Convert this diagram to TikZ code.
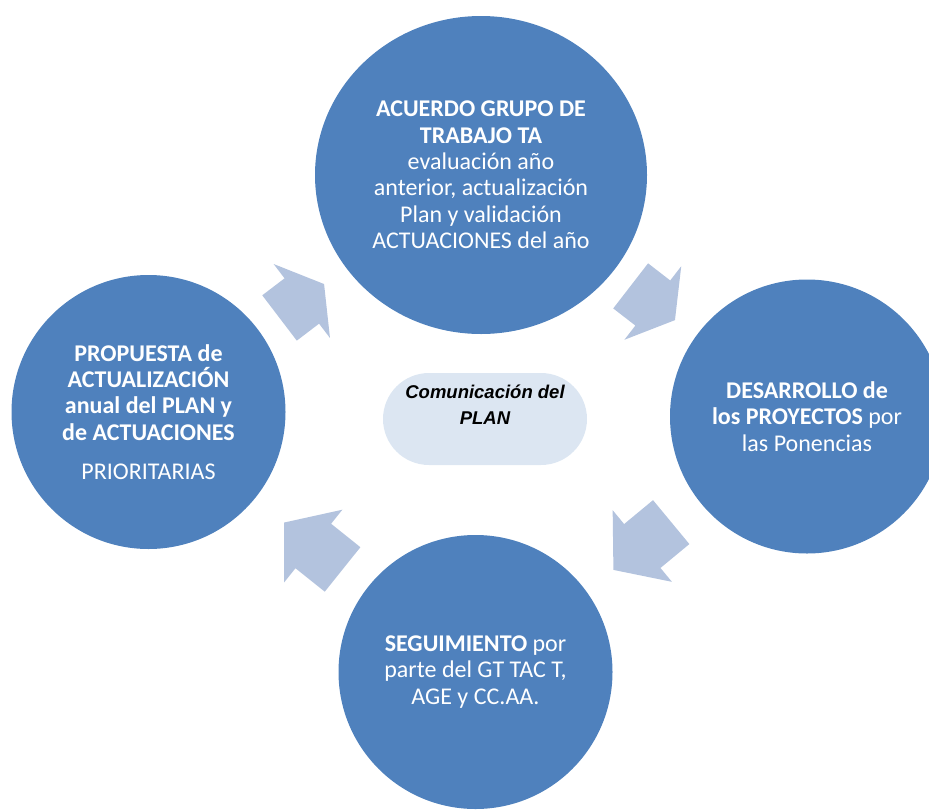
\documentclass[tikz,border=0pt]{standalone}
\usepackage{fontspec}
\setmainfont{Carlito}
\newfontfamily\pillfont{Liberation Sans}
\usetikzlibrary{shapes.geometric}
\definecolor{stageblue}{HTML}{4F81BD}
\definecolor{arrowblue}{HTML}{B3C3DE}
\definecolor{pillblue}{HTML}{DCE6F2}
\tikzstyle{stage}=[circle,fill=stageblue,text=white,inner sep=0pt,minimum size=274pt,align=center,font=\fontsize{24}{26.4}\selectfont]
\tikzstyle{pill}=[rectangle,rounded corners=46pt,fill=pillblue,minimum width=204pt,minimum height=92pt]
\tikzstyle{pilltext}=[inner sep=0pt,align=center,font=\pillfont\bfseries\itshape\fontsize{18.5}{25.5}\selectfont]
% x, y, angle, length
\newcommand{\cyclearrow}[4]{\fill[arrowblue,shift={(#1,#2)},rotate=#3] (-#4/2,-28.5) -- (0,-28.5) -- (0,-46.5) -- (#4/2,0) -- (0,46.5) -- (0,28.5) -- (-#4/2,28.5) -- cycle;}

\begin{document}
\begin{tikzpicture}[x=1pt,y=-1pt]
\useasboundingbox (0,0) rectangle (929,809);
\clip (0,0) rectangle (929,809);
\cyclearrow{301.8}{301}{37.3}{56}
\cyclearrow{652.8}{303}{-37.7}{56}
\cyclearrow{642.3}{546}{219.6}{75}
\cyclearrow{313.3}{546}{141.3}{75}
\node[stage,ellipse,minimum width=332pt,minimum height=318pt] at (481,175) (acuerdo) {\textbf{ACUERDO GRUPO DE}\\\textbf{TRABAJO TA}\\evaluación año\\anterior, actualización\\Plan y validación\\ACTUACIONES del año};
\node[stage] at (807,416.5) (desarrollo) {\textbf{DESARROLLO de}\\\textbf{los PROYECTOS} por\\las Ponencias};
\node[stage] at (475.5,672) (seguimiento) {\textbf{SEGUIMIENTO} por\\parte del GT TAC T,\\AGE y CC.AA.};
\node[stage] at (148.5,412) (propuesta) {\textbf{PROPUESTA de}\\\textbf{ACTUALIZACIÓN}\\\textbf{anual del PLAN y}\\\textbf{de ACTUACIONES}\\[13pt]PRIORITARIAS};
\node[pill] at (485,419) (plan) {};
\node[pilltext,anchor=north] at (485,385) (plantext) {Comunicación del\\PLAN};
\end{tikzpicture}
\end{document}
